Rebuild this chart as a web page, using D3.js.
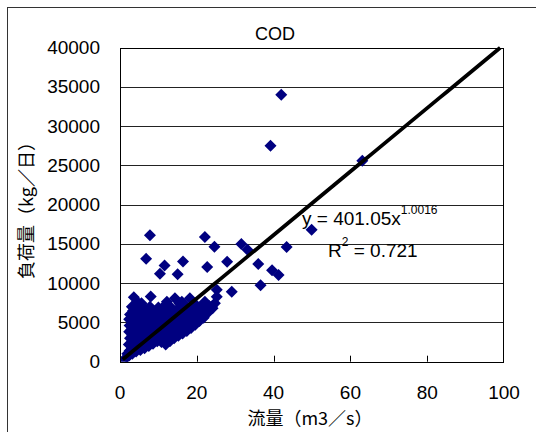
<!DOCTYPE html>
<html><head><meta charset="utf-8">
<script src="https://cdn.jsdelivr.net/npm/d3@7"></script>
<style>
html,body{margin:0;padding:0;background:#fff;}
svg{display:block;}
text{font-family:"Liberation Sans",Arial,sans-serif;fill:#000;}
.jp{font-family:"Noto Sans CJK JP","Noto Sans CJK SC",sans-serif;}
</style></head>
<body>
<script>
const chartTitle = "COD";
const xTitle = "流量（m3／s）";
const yTitle = "負荷量（kg／日）";
const xTicks = [0, 20, 40, 60, 80, 100];
const yTicks = [0, 5000, 10000, 15000, 20000, 25000, 30000, 35000, 40000];
const trendCoef = 401.05;
const trendExp = 1.0016;
const trendStart = 0.7;
const rSquared = "0.721";

// scattered observations [flow m3/s, load kg/day]
const outliers = [
  [42.0,34000],[39.2,27500],[63.1,25600],[49.9,16800],[43.4,14620],[7.8,16100],
  [6.8,13100],[22.1,15900],[24.6,14640],[31.6,15000],[33.2,14250],[16.4,12750],
  [11.6,12270],[10.4,11200],[15.0,11150],[22.7,12050],[27.9,12720],[36.0,12450],
  [39.6,11650],[41.3,11030],[36.6,9750],[29.1,8900],[25.2,9150],[3.6,8200],
  [8.0,8300],[18.2,8070],[24.7,7430],[23.9,7000],[25.2,8280],[12.2,7640],
  [14.3,8070],[16.1,7640],[22.1,7640],[22.9,6580],[20.0,6580],[5.6,7430],[4.5,7640]
];
// dense cluster at low flows [flow m3/s, load kg/day]
const cluster = [
  [1.2,300],[1.8,600],[1.9,1000],
  [2.4,800],[2.5,1400],[2.3,2200],[2.6,3000],[2.4,3800],[2.5,4600],[2.4,5400],[2.6,6000],
  [3.2,1000],[3.1,1700],[3.3,2500],[3.2,3300],[3.0,4100],[3.3,4900],[3.2,5600],[3.4,6500],[3.1,7000],
  [4.2,1300],[4.1,2000],[4.3,2900],[4.2,3700],[4.0,4500],[4.4,5300],[4.2,6200],[4.1,6900],
  [5.3,1500],[5.2,2300],[5.4,3200],[5.3,4000],[5.1,4800],[5.4,5700],[5.3,6500],
  [6.4,1700],[6.3,2600],[6.5,3500],[6.4,4300],[6.2,5100],[6.5,6000],[6.4,6800],
  [7.5,2000],[7.4,2900],[7.6,3800],[7.5,4600],[7.3,5400],[7.6,6200],[7.8,7000],
  [8.6,2300],[8.5,3100],[8.7,4000],[8.6,4900],[8.4,5700],[8.7,6500],
  [9.7,2600],[9.6,3400],[9.8,4300],[9.7,5200],[9.5,6000],[10.0,6900],
  [10.8,2500],[10.7,3600],[10.9,4500],[10.8,5400],[10.6,6200],
  [11.9,2200],[11.8,3000],[12.0,3900],[11.9,4800],[11.7,5600],[12.0,6400],[11.5,7100],
  [13.0,2600],[12.9,3400],[13.1,4300],[13.0,5100],[12.8,6000],[13.3,6900],
  [14.1,3000],[14.0,3800],[14.2,4700],[14.1,5500],[13.9,6300],
  [15.2,3300],[15.1,4100],[15.3,5000],[15.2,5800],[15.0,6700],[15.5,7400],
  [16.3,3600],[16.2,4500],[16.4,5300],[16.3,6200],
  [17.4,3900],[17.3,4800],[17.5,5600],[17.4,6500],[17.0,7200],
  [18.5,4300],[18.4,5100],[18.6,6000],[18.9,6900],
  [19.6,4700],[19.5,5500],[19.7,6400],[19.4,7400],
  [20.7,5200],[20.6,6000],[21.0,7000],
  [21.8,5600],[21.7,6300],[22.0,7300],
  [23.0,6300],[23.2,7100],[24.1,6800]
];

const W = 536, H = 432;
const plot = {left:120, right:504, top:47.7, bottom:361.7};

const svg = d3.select("body").append("svg").attr("width", W).attr("height", H);

// outer chart frame
svg.append("rect").attr("x",7.5).attr("y",7.5).attr("width",560).attr("height",460)
  .attr("fill","#fff").attr("stroke","#333").attr("stroke-width",1);

const x = d3.scaleLinear().domain([0,100]).range([plot.left, plot.right]);
const y = d3.scaleLinear().domain([0,40000]).range([plot.bottom, plot.top]);

// gridlines
svg.append("g").selectAll("line").data(yTicks.slice(1,-1)).join("line")
  .attr("x1",plot.left).attr("x2",plot.right)
  .attr("y1",d=>Math.round(y(d))+0.5).attr("y2",d=>Math.round(y(d))+0.5)
  .attr("stroke","#222").attr("stroke-width",1);

// x ticks inside
svg.append("g").selectAll("line").data(xTicks.slice(1,-1)).join("line")
  .attr("x1",d=>Math.round(x(d))+0.5).attr("x2",d=>Math.round(x(d))+0.5)
  .attr("y1",plot.bottom).attr("y2",plot.bottom-6)
  .attr("stroke","#000").attr("stroke-width",1);

// clip
svg.append("clipPath").attr("id","clip").append("rect")
  .attr("x",plot.left).attr("y",plot.top)
  .attr("width",plot.right-plot.left).attr("height",plot.bottom-plot.top);

const g = svg.append("g").attr("clip-path","url(#clip)");
const diamond = "M0,-6L6,0L0,6L-6,0Z";
const allPts = cluster.concat(outliers);
g.selectAll("path.pt").data(allPts).join("path").attr("class","pt")
  .attr("d",diamond)
  .attr("transform",d=>`translate(${x(d[0])},${y(d[1])})`)
  .attr("fill","#000080");

// trend line (power fit)
const xEnd = Math.pow(40000/trendCoef, 1/trendExp);
const trendPts = d3.range(0,51).map(i => {
  const xv = trendStart + (xEnd - trendStart)*i/50;
  return [xv, trendCoef*Math.pow(xv, trendExp)];
});
svg.append("path").datum(trendPts)
  .attr("d", d3.line().x(d=>x(d[0])).y(d=>y(d[1])))
  .attr("fill","none").attr("stroke","#000").attr("stroke-width",3.8);

// plot frame
svg.append("rect").attr("x",plot.left+0.5).attr("y",Math.round(plot.top)+0.5)
  .attr("width",plot.right-plot.left-1).attr("height",Math.round(plot.bottom)-Math.round(plot.top))
  .attr("fill","none").attr("stroke","#000").attr("stroke-width",1);

// tick labels
svg.append("g").selectAll("text").data(yTicks).join("text")
  .attr("x",100).attr("y",d=>y(d)+6.5).attr("text-anchor","end")
  .attr("font-size",19).text(d=>d);
svg.append("g").selectAll("text").data(xTicks).join("text")
  .attr("x",d=>x(d)).attr("y",399).attr("text-anchor","middle")
  .attr("font-size",19).text(d=>d);

// titles
svg.append("text").attr("x",275).attr("y",40).attr("text-anchor","middle")
  .attr("font-size",18).text(chartTitle);
svg.append("text").attr("class","jp").attr("x",310).attr("y",425).attr("text-anchor","middle")
  .attr("font-size",18).text(xTitle);
svg.append("text").attr("class","jp")
  .attr("transform","translate(33,206) rotate(-90)").attr("text-anchor","middle")
  .attr("font-size",18).text(yTitle);

// equation
const eq = svg.append("text").attr("x",302).attr("y",225).attr("font-size",19);
eq.append("tspan").text("y = 401.05x");
eq.append("tspan").attr("dy",-11).attr("font-size",12).text(String(trendExp.toFixed(4)));
const r2 = svg.append("text").attr("x",328).attr("y",257).attr("font-size",19);
r2.append("tspan").text("R");
r2.append("tspan").attr("dy",-11).attr("font-size",12).text("2");
r2.append("tspan").attr("dy",11).text(" = " + rSquared);
</script>
</body></html>
